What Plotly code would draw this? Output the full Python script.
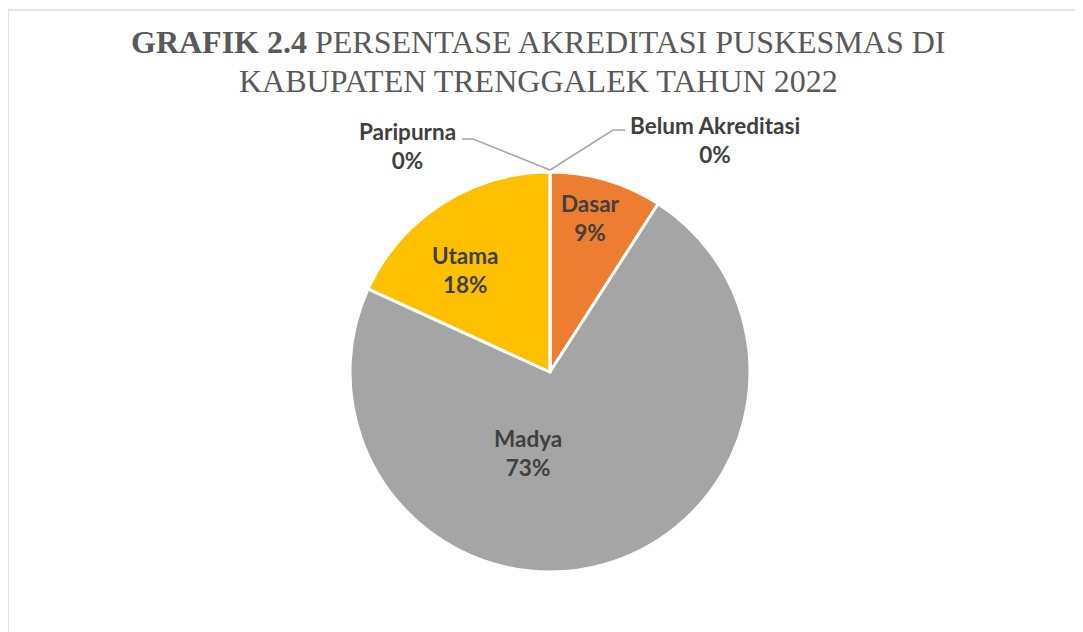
import plotly.graph_objects as go

categories = ["Belum Akreditasi", "Dasar", "Madya", "Utama", "Paripurna"]
values = [0, 2, 16, 4, 0]
colors = ["#4472C4", "#ED7D31", "#A5A5A5", "#FFC000", "#5B9BD5"]

W, H = 1083, 632
OFF = 8  # default page body margin
cx, cy, r = 550, 372, 200  # pixel centre/radius of the pie (screen coords)

def px(x):
    return (x - OFF) / W

def py(y):
    return 1 - (y - OFF) / H

total = sum(values)

fig = go.Figure(go.Pie(
    labels=categories,
    values=values,
    marker=dict(colors=colors, line=dict(color="white", width=3)),
    sort=False,
    direction="clockwise",
    rotation=0,
    textinfo="none",
    hoverinfo="label+percent",
    showlegend=False,
    domain=dict(x=[px(cx - r), px(cx + r)], y=[py(cy + r), py(cy - r)]),
))

lab_font = dict(family="Lato", size=22.5, color="#404040", weight="bold")

# data-label placement (screen px) – Excel "best fit" style
label_pos = {
    "Belum Akreditasi": (715, 140),
    "Dasar": (590, 218),
    "Madya": (528, 453),
    "Utama": (465, 270),
    "Paripurna": (407, 146),
}
# leader lines for zero-value slices: (elbow x, end x, y)
leaders = {
    "Belum Akreditasi": (613, 625, 130),
    "Paripurna": (473, 462, 139),
}

for cat, v in zip(categories, values):
    pct = 100 * v / total
    lx, ly = label_pos[cat]
    fig.add_annotation(x=px(lx), y=py(ly), xref="paper", yref="paper",
                       xanchor="center", yanchor="middle",
                       text=f"{cat}<br>{pct:.0f}%", showarrow=False,
                       font=lab_font, align="center")
    if v == 0:
        ex, tx, ty = leaders[cat]
        fig.add_shape(type="path", xref="paper", yref="paper",
                      path=f"M {px(cx)} {py(cy - r - 2)} L {px(ex)} {py(ty)} L {px(tx)} {py(ty)}",
                      line=dict(color="#A6A6A6", width=1.5))

# chart border
fig.add_shape(type="rect", xref="paper", yref="paper",
              x0=px(8), y0=py(660), x1=px(1100), y1=py(10),
              line=dict(color="#D9D9D9", width=1.5))

title_font = dict(family="Liberation Serif", size=32, color="#595959")
fig.add_annotation(
    x=px(538), y=py(42.5), xref="paper", yref="paper", showarrow=False,
    text="<b>GRAFIK 2.4</b> PERSENTASE AKREDITASI PUSKESMAS DI",
    font=title_font, xanchor="center", yanchor="middle")
fig.add_annotation(
    x=px(538), y=py(80.5), xref="paper", yref="paper", showarrow=False,
    text="KABUPATEN TRENGGALEK TAHUN 2022",
    font=title_font, xanchor="center", yanchor="middle")

fig.update_layout(width=W, height=H, margin=dict(l=0, r=0, t=0, b=0),
                  paper_bgcolor="white", plot_bgcolor="white")

fig.write_html("out.html")
